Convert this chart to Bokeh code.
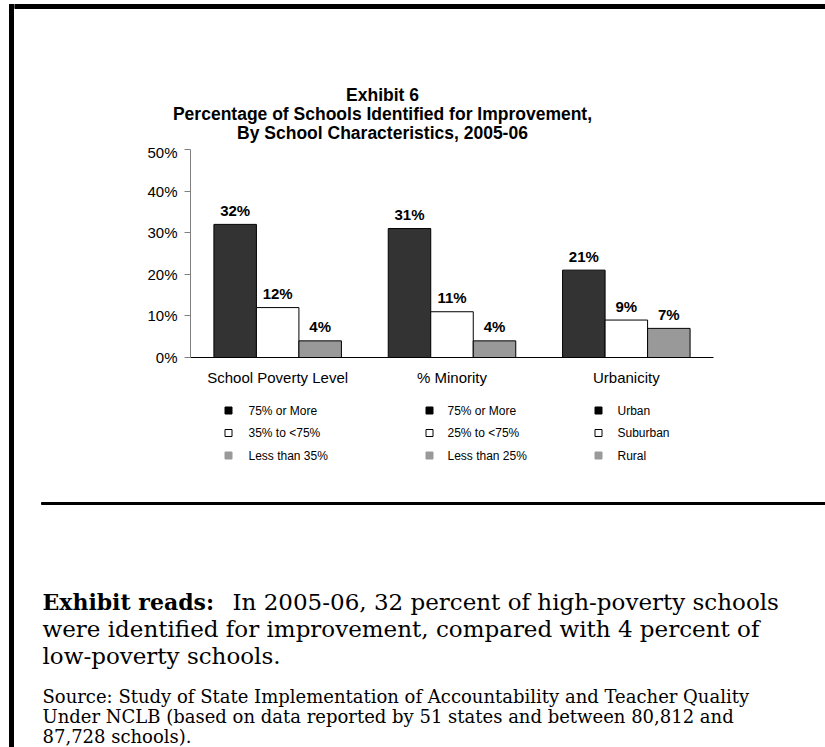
from bokeh.plotting import figure
from bokeh.layouts import row, column
from bokeh.models import ColumnDataSource, FactorRange, Range1d, FixedTicker
from bokeh.transform import dodge
from bokeh.core.properties import value
from bokeh.embed import file_html
from bokeh.resources import INLINE

# ---------------- data ----------------
categories = ["School Poverty Level", "% Minority", "Urbanicity"]
high_values = [32, 31, 21]
mid_values = [12, 11, 9]
low_values = [4, 4, 7]
legend_labels = [
    ["75% or More", "35% to <75%", "Less than 35%"],
    ["75% or More", "25% to <75%", "Less than 25%"],
    ["Urban", "Suburban", "Rural"],
]
y_ticks = [0, 10, 20, 30, 40, 50]
y_tick_labels = ["0%", "10%", "20%", "30%", "40%", "50%"]
title_lines = ["Exhibit 6",
               "Percentage of Schools Identified for Improvement,",
               "By School Characteristics, 2005-06"]
reads_bold = "Exhibit reads:"
reads_lines = ["In 2005-06, 32 percent of high-poverty schools",
               "were identified for improvement, compared with 4 percent of",
               "low-poverty schools."]
source_lines = ["Source:  Study of State Implementation of Accountability and Teacher Quality",
                "Under NCLB (based on data reported by 51 states and between 80,812 and",
                "87,728 schools)."]

SANS = "Liberation Sans"
SERIF = "DejaVu Serif"
BAR_COLORS = ["#333333", "#ffffff", "#999999"]
LEG_FILL = ["#000000", "#ffffff", "#9a9a9a"]
LEG_LINE = ["#000000", "#000000", "#9a9a9a"]

PW, PH = 825, 747          # page size
BX = 14                    # width of the left strip holding the border
HEAD_H = 143               # page y where the chart panel starts
CHART_H = 249              # chart panel height
TEXT_Y0 = HEAD_H + CHART_H


def blank(w, h, x0, y0):
    """A figure whose data space equals page pixels (y grows downward)."""
    f = figure(width=w, height=h, x_range=Range1d(x0, x0 + w), y_range=Range1d(y0 + h, y0),
               output_backend="svg", toolbar_location=None, min_border=0,
               x_axis_location=None, y_axis_location=None, frame_align=False)
    f.outline_line_color = None
    f.xgrid.visible = False
    f.ygrid.visible = False
    f.background_fill_color = "white"
    f.border_fill_color = "white"
    return f


# ---------------- left border strip ----------------
strip = blank(BX, PH, 0, 0)
strip.quad(left=9, right=13, top=4, bottom=PH, color="black")
strip.quad(left=9, right=BX, top=4, bottom=8, color="black")

# ---------------- header (title) ----------------
head = blank(PW - BX, HEAD_H, BX, 0)
head.quad(left=BX, right=PW, top=4, bottom=8, color="black")
head.text(x=[382] * 3, y=[94, 113, 132], text=title_lines, text_align="center",
          text_baseline="middle", text_font=value(SANS), text_font_style="bold",
          text_font_size="17.5px", text_color="black")

# ---------------- chart ----------------
CW = PW - BX
FL, FR, FT, FB = 190 - BX, 713 - BX, 149 - HEAD_H, 357 - HEAD_H
p = figure(width=CW, height=CHART_H, x_range=FactorRange(factors=categories, range_padding=0),
           y_range=Range1d(0, 50), output_backend="svg", toolbar_location=None,
           min_border_left=FL, min_border_right=CW - FR,
           min_border_top=FT, min_border_bottom=CHART_H - FB, frame_align=False)
p.outline_line_color = None
p.xgrid.visible = False
p.ygrid.visible = False
p.background_fill_color = "white"
p.border_fill_color = "white"

src = ColumnDataSource(dict(cat=categories, high=high_values, mid=mid_values, low=low_values,
                            high_l=[f"{v}%" for v in high_values],
                            mid_l=[f"{v}%" for v in mid_values],
                            low_l=[f"{v}%" for v in low_values]))

bw = 0.2438
for col, color, off in zip(["high", "mid", "low"], BAR_COLORS, [-bw, 0.0, bw]):
    p.vbar(x=dodge("cat", off, range=p.x_range), top=col, width=bw, bottom=0, source=src,
           fill_color=color, line_color="black", line_width=1)
    p.text(x=dodge("cat", off, range=p.x_range), y=col, text=col + "_l", source=src,
           text_align="center", text_baseline="alphabetic", y_offset=-14,
           text_font=value(SANS), text_font_style="bold", text_font_size="15px",
           text_color="black")

yax = p.yaxis[0]
yax.ticker = FixedTicker(ticks=y_ticks)
yax.major_label_overrides = {t: l for t, l in zip(y_ticks, y_tick_labels)}
yax.axis_line_color = "#808080"
yax.major_tick_line_color = "#808080"
yax.major_tick_out = 6
yax.major_tick_in = 0
yax.minor_tick_out = 0
yax.minor_tick_in = 0
yax.major_label_standoff = 7
yax.major_label_text_font = SANS
yax.major_label_text_font_size = "15px"
yax.major_label_text_color = "black"

xax = p.xaxis[0]
xax.axis_line_color = "black"
xax.major_tick_out = 0
xax.major_tick_in = 0
xax.major_label_standoff = 11
xax.major_label_text_font = SANS
xax.major_label_text_font_size = "15px"
xax.major_label_text_color = "black"

# ---------------- lower text panel ----------------
txt = blank(PW - BX, PH - TEXT_Y0, BX, TEXT_Y0)

# legend columns
leg_marker_x = [228, 429, 598]
leg_text_x = [248, 447, 617]
leg_y = [410, 432.5, 455]
for labels, mx, tx in zip(legend_labels, leg_marker_x, leg_text_x):
    txt.scatter(x=[mx] * 3, y=leg_y, marker="square", size=7, fill_color=LEG_FILL,
                line_color=LEG_LINE, line_width=1)
    txt.text(x=[tx] * 3, y=leg_y, text=labels, text_align="left", text_baseline="middle",
             text_font=value(SANS), text_font_size="12px", text_color="black")

# horizontal rule
txt.quad(left=41, right=PW, top=502, bottom=504, color="black")

# exhibit reads
txt.text(x=[42], y=[601], text=[reads_bold], text_align="left", text_baseline="middle",
         text_font=value(SERIF), text_font_style="bold", text_font_size="22px",
         text_color="black")
txt.text(x=[232, 42, 42], y=[601, 628, 655], text=reads_lines, text_align="left",
         text_baseline="middle", text_font=value(SERIF), text_font_size="23px",
         text_color="black")

# source
txt.text(x=[42] * 3, y=[696, 716, 736], text=source_lines, text_align="left",
         text_baseline="middle", text_font=value(SERIF), text_font_size="18px",
         text_color="black")

layout = row(strip, column(head, p, txt, spacing=0), spacing=0)

open("out.html", "w").write(file_html(layout, INLINE))
